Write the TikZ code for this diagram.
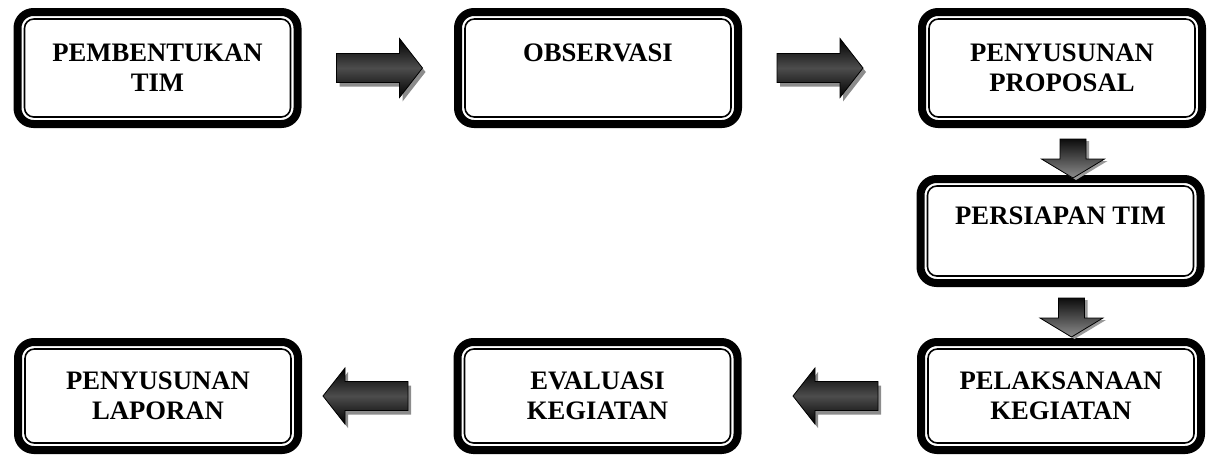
\documentclass[tikz,border=0pt]{standalone}
\usepackage{fontspec}
\setmainfont{Liberation Serif}
\usepackage{tikz}
\usetikzlibrary{calc}
\usetikzlibrary{shadows}
\tikzset{
 stage/.style={draw, line width=6pt, rounded corners=12pt, outer sep=0pt, minimum width=210pt, minimum height=84pt, align=center, font=\bfseries\fontsize{20}{22.5}\selectfont},
 stageline/.style={line width=1.2pt, rounded corners=7pt},
 flatarr/.style={draw=black, line width=.6pt, top color=black, bottom color=black, middle color=black!70, drop shadow={shadow xshift=2.25pt, shadow yshift=-3pt, fill=black!45, opacity=1}},
 downarr/.style={draw=black, line width=.6pt, top color=black!95, bottom color=black!45, drop shadow={shadow xshift=2.25pt, shadow yshift=-1.5pt, fill=black!40, opacity=1}}
}

\begin{document}
\begin{tikzpicture}[x=.75pt, y=.75pt]
\useasboundingbox (0,0) rectangle (1208,-454);
\node[stage] (tim) at (157.5,-68) {PEMBENTUKAN\\TIM};
\node[stage] (obs) at (598,-68) {OBSERVASI\\\mbox{}};
\node[stage] (prop) at (1062,-68) {PENYUSUNAN\\PROPOSAL};
\node[stage, minimum height=78pt] (siap) at (1060.5,-231) {PERSIAPAN TIM\\\mbox{}};
\node[stage, minimum height=81pt] (laks) at (1061,-396) {PELAKSANAAN\\KEGIATAN};
\node[stage, minimum height=81pt] (eval) at (597.5,-396) {EVALUASI\\KEGIATAN};
\node[stage, minimum height=81pt] (lap) at (158,-396) {PENYUSUNAN\\LAPORAN};
\foreach \b in {tim,obs,prop,siap,laks,eval,lap}
 \draw[stageline] ($(\b.north west)+(7,-7)$) rectangle ($(\b.south east)+(-7,7)$);
\foreach \s in {tim,obs}
 \path[flatarr] ($(\s.east)+(39,0)$) ++(0,14.5) -- ++(63,0) -- ++(0,15) -- ++(23,-29.5) -- ++(-23,-29.5) -- ++(0,15) -- ++(-63,0) -- cycle;
\foreach \s in {prop,siap}
 \path[downarr] ($(\s.south)+(11,-15)$) ++(-13,0) -- ++(26,0) -- ++(0,-20) -- ++(18.5,0) -- ++(-31.5,-19) -- ++(-31.5,19) -- ++(18.5,0) -- cycle;
\path[flatarr] ($(lap.east)+(25,0)$) -- ++(22,28) -- ++(0,-13.5) -- ++(63,0) -- ++(0,-29) -- ++(-63,0) -- ++(0,-13.5) -- cycle;
\path[flatarr] ($(eval.east)+(55.5,0)$) -- ++(22,28) -- ++(0,-13.5) -- ++(63,0) -- ++(0,-29) -- ++(-63,0) -- ++(0,-13.5) -- cycle;
\end{tikzpicture}
\end{document}
